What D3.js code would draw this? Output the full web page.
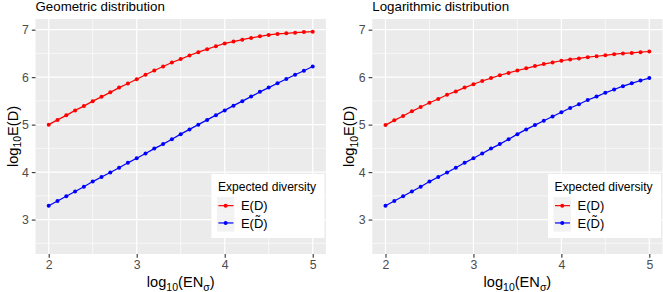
<!DOCTYPE html>
<html>
<head>
<meta charset="utf-8">
<script src="https://cdn.jsdelivr.net/npm/d3@7"></script>
<style>
  body { margin: 0; background: white; }
  text { font-family: "Liberation Sans", Arial, sans-serif; }
</style>
</head>
<body>
<div id="chart"></div>
<script>
// log10(EN_sigma) values shared by all series
var xVals = [2.0, 2.1, 2.2, 2.3, 2.4, 2.5, 2.6, 2.7, 2.8, 2.9,
             3.0, 3.1, 3.2, 3.3, 3.4, 3.5, 3.6, 3.7, 3.8, 3.9,
             4.0, 4.1, 4.2, 4.3, 4.4, 4.5, 4.6, 4.7, 4.8, 4.9, 5.0];

// Geometric distribution
var geoED = [5.00, 5.10, 5.195, 5.30, 5.39, 5.495, 5.585, 5.68, 5.78, 5.865,
             5.955, 6.05, 6.14, 6.225, 6.31, 6.38, 6.456, 6.526, 6.59, 6.65,
             6.71, 6.75, 6.79, 6.826, 6.86, 6.89, 6.91, 6.923, 6.937, 6.95, 6.958];
var geoEDt = [3.29, 3.39, 3.49, 3.59, 3.69, 3.80, 3.895, 3.99, 4.09, 4.195,
              4.29, 4.39, 4.495, 4.59, 4.69, 4.80, 4.90, 5.00, 5.10, 5.20,
              5.30, 5.40, 5.495, 5.59, 5.69, 5.78, 5.87, 5.96, 6.05, 6.135, 6.225];

// Logarithmic distribution
var logED = [4.99, 5.09, 5.18, 5.28, 5.37, 5.46, 5.54, 5.63, 5.70, 5.78,
             5.85, 5.92, 5.98, 6.04, 6.09, 6.14, 6.185, 6.233, 6.275, 6.31,
             6.345, 6.373, 6.394, 6.42, 6.44, 6.46, 6.484, 6.50, 6.51, 6.526, 6.54];
var logEDt = [3.29, 3.39, 3.49, 3.59, 3.69, 3.80, 3.895, 3.99, 4.09, 4.195,
              4.29, 4.39, 4.495, 4.59, 4.69, 4.80, 4.90, 4.99, 5.08, 5.17,
              5.26, 5.35, 5.43, 5.52, 5.59, 5.67, 5.74, 5.81, 5.87, 5.93, 5.98];

var xTicks = [2, 3, 4, 5];
var yTicks = [3, 4, 5, 6, 7];
var xMinor = [2.5, 3.5, 4.5];
var yMinor = [2.5, 3.5, 4.5, 5.5, 6.5];
var seriesNames = ["E(D)", "E(D\u0303)"];
var seriesColors = ["#FF0000", "#0000FF"];

var width = 663, height = 292;
var panelTop = 19, panelBottom = 254;

var panels = [
    { title: "Geometric distribution", left: 35.5, right: 325.9, series: [geoED, geoEDt] },
    { title: "Logarithmic distribution", left: 372.3, right: 662.5, series: [logED, logEDt] }
];

var svg = d3.select("#chart").append("svg")
    .attr("width", width)
    .attr("height", height);

function drawPanel(p) {
    var g = svg.append("g");

    // ggplot style 5% expansion
    var x = d3.scaleLinear().domain([1.85, 5.15]).range([p.left, p.right]);
    var y = d3.scaleLinear().domain([2.275, 7.225]).range([panelBottom, panelTop]);

    g.append("rect")
        .attr("x", p.left).attr("y", panelTop)
        .attr("width", p.right - p.left).attr("height", panelBottom - panelTop)
        .attr("fill", "#EBEBEB");

    // grid lines
    g.selectAll(".xminor").data(xMinor).join("line")
        .attr("x1", d => x(d)).attr("x2", d => x(d))
        .attr("y1", panelTop).attr("y2", panelBottom)
        .attr("stroke", "white").attr("stroke-width", 0.6);
    g.selectAll(".yminor").data(yMinor).join("line")
        .attr("y1", d => y(d)).attr("y2", d => y(d))
        .attr("x1", p.left).attr("x2", p.right)
        .attr("stroke", "white").attr("stroke-width", 0.6);
    g.selectAll(".xmajor").data(xTicks).join("line")
        .attr("x1", d => x(d)).attr("x2", d => x(d))
        .attr("y1", panelTop).attr("y2", panelBottom)
        .attr("stroke", "white").attr("stroke-width", 1.2);
    g.selectAll(".ymajor").data(yTicks).join("line")
        .attr("y1", d => y(d)).attr("y2", d => y(d))
        .attr("x1", p.left).attr("x2", p.right)
        .attr("stroke", "white").attr("stroke-width", 1.2);

    // axes
    var xAxis = g.append("g")
        .attr("transform", `translate(0,${panelBottom})`)
        .call(d3.axisBottom(x).tickValues(xTicks).tickSize(3.7).tickPadding(3).tickFormat(d3.format("d")));
    var yAxis = g.append("g")
        .attr("transform", `translate(${p.left},0)`)
        .call(d3.axisLeft(y).tickValues(yTicks).tickSize(3.7).tickPadding(3).tickFormat(d3.format("d")));
    [xAxis, yAxis].forEach(function(a) {
        a.select(".domain").remove();
        a.selectAll(".tick line").attr("stroke", "#333333").attr("stroke-width", 1.1);
        a.selectAll(".tick text")
            .attr("fill", "#4D4D4D")
            .style("font-size", "12.3px")
            .style("font-family", "'Liberation Sans', Arial, sans-serif");
    });

    // lines + points
    var line = d3.line().x((d, i) => x(xVals[i])).y(d => y(d));
    p.series.forEach(function(vals, k) {
        g.append("path")
            .attr("d", line(vals))
            .attr("fill", "none")
            .attr("stroke", seriesColors[k])
            .attr("stroke-width", 1.2);
        g.selectAll(".pt" + k).data(vals).join("circle")
            .attr("cx", (d, i) => x(xVals[i]))
            .attr("cy", d => y(d))
            .attr("r", 2)
            .attr("fill", seriesColors[k]);
    });

    // title
    g.append("text")
        .attr("x", p.left).attr("y", 11)
        .style("font-size", "13.3px")
        .attr("fill", "black")
        .text(p.title);

    // x axis title
    var xt = g.append("text")
        .attr("x", (p.left + p.right) / 2).attr("y", 287)
        .attr("text-anchor", "middle")
        .style("font-size", "14.6px")
        .attr("fill", "black");
    xt.append("tspan").text("log");
    xt.append("tspan").attr("dy", 3.5).style("font-size", "10.5px").text("10");
    xt.append("tspan").attr("dy", -3.5).text("(EN");
    xt.append("tspan").attr("dy", 3.5).style("font-size", "10.5px").text("\u03C3");
    xt.append("tspan").attr("dy", -3.5).text(")");

    // y axis title
    var yt = g.append("text")
        .attr("transform", `translate(${p.left - 18},${(panelTop + panelBottom) / 2}) rotate(-90)`)
        .attr("text-anchor", "middle")
        .style("font-size", "14.6px")
        .attr("fill", "black");
    yt.append("tspan").text("log");
    yt.append("tspan").attr("dy", 3.5).style("font-size", "10.5px").text("10");
    yt.append("tspan").attr("dy", -3.5).text("E(D)");

    // legend
    var lw = 113, lh = 64;
    var lx = p.right - 1.5 - lw, ly = 174;
    var leg = g.append("g").attr("transform", `translate(${lx},${ly})`);
    leg.append("rect").attr("width", lw).attr("height", lh).attr("fill", "white");
    leg.append("text")
        .attr("x", 6.5).attr("y", 16.5)
        .style("font-size", "12.1px")
        .attr("fill", "black")
        .text("Expected diversity");
    seriesNames.forEach(function(name, k) {
        var ky = 23 + k * 17.3;
        leg.append("rect")
            .attr("x", 5.5).attr("y", ky)
            .attr("width", 17.5).attr("height", 17.3)
            .attr("fill", "#F2F2F2");
        leg.append("line")
            .attr("x1", 7).attr("x2", 22)
            .attr("y1", ky + 8.65).attr("y2", ky + 8.65)
            .attr("stroke", seriesColors[k]).attr("stroke-width", 1.2);
        leg.append("circle")
            .attr("cx", 14.25).attr("cy", ky + 8.65).attr("r", 2)
            .attr("fill", seriesColors[k]);
        leg.append("text")
            .attr("x", 29.5).attr("y", ky + 13.3)
            .style("font-size", "13px")
            .attr("fill", "black")
            .text(name);
    });
}

panels.forEach(drawPanel);
</script>
</body>
</html>
